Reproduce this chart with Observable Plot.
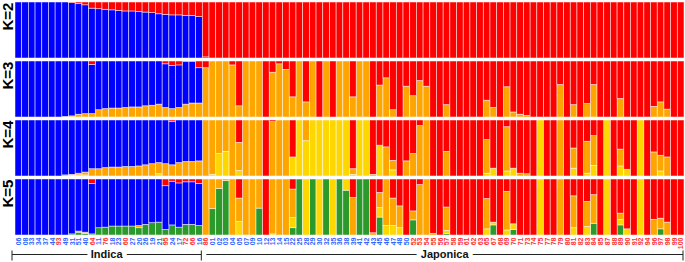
<!DOCTYPE html>
<html><head><meta charset="utf-8">
<script src="https://cdn.jsdelivr.net/npm/d3@7"></script>
<script src="https://cdn.jsdelivr.net/npm/@observablehq/plot@0.6"></script>
<style>body{margin:0;background:#fff} svg{display:block}</style>
</head><body><div id="chart"></div>
<script>
// Individuals in plotted order
const ids = ["06","08","33","34","37","44","93","49","31","51","40","64","11","76","18","23","60","27","20","26","19","21","95","24","17","72","66","16",
"86","01","02","03","04","05","07","09","10","12","13","14","15","22","25","28","29","30","32","35","36","38","39","41","42","43","45","46","47","48","50",
"52","53","54","55","56","57","58","59","61","62","63","65","67","68","69","70","71","73","74","75","77","78","79","80","81","82","83","84","85","87","88","89","90","91","92","94","96","97","98","99","100"];
// tick labels drawn in red
const redLabels = ["93","64","76","60","95","72","66","86","52","53","54","55","56","57","58","59","61","62","63","65","67","68","69","70","71","73","74","75","77","78","79","80","81","82","83","84","85","87","88","89","90","91","92","94","96","97","98","99","100"];
const groups = [{name:"Indica", from:"06", to:"16"}, {name:"Japonica", from:"86", to:"100"}];
const panelNames = ["K=2","K=3","K=4","K=5"];

// K=2
const k2Blue = [1,1,1,1,1,1,1,1,.99,.97, .95,.89,.88,.87,.86,.85,.84,.84,.83,.82, .81,.79,.78,.77,.77,.76,.76,.74,.02,0,
0,0,0,0,0,0,0,0,0,0, 0,0,0,0,0,0,0,0,0,0, 0,0,0,0,0,0,0,0,0,0, 0,0,0,0,0,0,0,0,0,0, 0,0,0,0,0,0,0,0,0,0, 0,0,0,0,0,0,0,0,0,0, 0,0,0,0,0,0,0,0,0,0];
const k2Red = [0,0,0,0,0,0,0,0,.01,.03, .05,.11,.12,.13,.14,.15,.16,.16,.17,.18, .19,.21,.22,.23,.23,.24,.24,.26,.98,1,
1,1,1,1,1,1,1,1,1,1, 1,1,1,1,1,1,1,1,1,1, 1,1,1,1,1,1,1,1,1,1, 1,1,1,1,1,1,1,1,1,1, 1,1,1,1,1,1,1,1,1,1, 1,1,1,1,1,1,1,1,1,1, 1,1,1,1,1,1,1,1,1,1];

// K=3
const k3Red = [0,0,0,0,0,0,0,0,0,0, 0,.06,0,0,0,0,0,0,0,0, 0,0,.05,.08,.07,.01,.01,.12,.12,0,
0,0,.07,.8,0,0,0,1,.2,.05, .15,.64,0,.73,0,1,0,1,0,0, .64,0,0,1,.43,.3,.87,1,.45,.62, .35,.45,1,1,.78,1,1,1,1,1,
.7,.83,1,.46,.91,.95,.97,1,1,1, 1,.42,1,.78,1,.76,.42,1,1,1, .67,1,1,1,1,.81,.73,.86,1,1];
const k3Blue = [1,1,1,1,1,1,1,.99,.98,.95, .94,.88,.87,.85,.84,.84,.83,.82,.82,.8, .79,.77,.78,.77,.76,.76,.74,.63,0,0,
0,0,0,0,0,0,0,0,0,0, 0,0,0,0,0,0,0,0,0,0, 0,0,0,0,0,0,0,0,0,0, 0,0,0,0,0,0,0,0,0,0, 0,0,0,0,0,0,0,0,0,0, 0,0,0,0,0,0,0,0,0,0, 0,0,0,0,0,0,0,0,0,0];
const k3Orange = [0,0,0,0,0,0,0,.01,.02,.05, .06,.06,.13,.15,.16,.16,.17,.18,.18,.2, .21,.23,.17,.15,.17,.23,.25,.25,.88,1,
1,1,.93,.2,1,1,1,0,.8,.95, .85,.36,1,.27,1,0,1,0,1,1, .36,1,1,0,.57,.7,.13,0,.55,.38, .65,.55,0,0,.22,0,0,0,0,0,
.3,.17,0,.54,.09,.05,.03,0,0,0, 0,.58,0,.22,0,.24,.58,0,0,0, .33,0,0,0,0,.19,.27,.14,0,0];

// K=4
const k4Red = [0,0,0,0,0,0,0,0,0,0, 0,0,0,0,0,0,0,0,0,0, 0,0,0,.03,0,0,0,0,0,0,
0,0,0,.4,0,0,0,1,.03,0, 0,.66,0,0,0,0,0,0,0,0, .87,0,0,.97,.45,.48,.72,1,.73,.6, .1,0,1,1,.56,1,1,1,1,1,
.35,.86,1,.12,.86,.95,.96,1,0,1, 1,0,1,.5,1,.38,.28,1,0,1, .52,.88,1,0,1,.57,.63,.66,1,1];
const k4Blue = [1,1,1,1,1,1,1,.98,.97,.95, .93,.87,.87,.85,.84,.84,.83,.83,.82,.8, .78,.76,.78,.77,.76,.74,.74,.73,0,0,
0,0,0,0,0,0,0,0,0,0, 0,0,0,0,0,0,0,0,0,0, 0,0,0,0,0,0,0,0,0,0, 0,0,0,0,0,0,0,0,0,0, 0,0,0,0,0,0,0,0,0,0, 0,0,0,0,0,0,0,0,0,0, 0,0,0,0,0,0,0,0,0,0];
const k4Orange = [0,0,0,0,0,0,0,.02,.02,.03, .05,.13,.13,.15,.16,.16,.17,.17,.18,.2, .22,.2,.22,.2,.24,.26,.26,.27,1,.97,
.6,.56,1,.5,1,1,1,0,.97,1, 1,0,0,.37,0,0,0,0,0,0, .1,0,0,.03,0,.52,.17,0,.27,.4, .9,1,0,0,.44,0,0,0,0,0,
.6,0,0,.79,0,.05,.04,0,0,0, 0,1,0,.36,0,.57,.53,0,0,0, .3,0,0,0,0,.43,.28,.34,0,0];
const k4Yellow = [0,0,0,0,0,0,0,0,.01,.02, .02,0,0,0,0,0,0,0,0,0, 0,.04,0,0,0,0,0,0,0,.03,
.4,.44,0,.1,0,0,0,0,0,0, 0,.34,1,.63,1,1,1,1,1,1, .03,1,1,0,.55,0,.11,0,0,0, 0,0,0,0,0,0,0,0,0,0,
.05,.14,0,.09,.14,0,0,0,1,0, 0,0,0,.14,0,.05,.19,0,1,0, .18,.12,0,1,0,0,.09,0,0,0];

// K=5
const k5Red = [0,0,0,0,0,0,0,0,0,0, 0,.08,0,0,0,0,0,0,0,0, 0,0,.12,.04,.07,.05,.05,.08,0,0,
0,0,0,.34,0,0,0,1,0,0, 0,.18,0,0,0,0,0,0,0,0, .33,0,0,.96,.24,0,.34,.48,1,.57, .1,0,.97,1,.5,1,1,1,1,1,
.35,.77,1,.22,.8,1,1,1,0,1, 1,0,1,.3,1,.4,.28,1,0,1, .61,.89,1,0,1,.72,.7,.77,1,1];
const k5Blue = [1,1,1,1,1,1,1,1,.98,.93, .95,.9,.87,.86,.84,.84,.84,.84,.83,.81, .78,.77,.78,.78,.79,.76,.76,.75,0,0,
0,0,0,0,0,0,0,0,0,0, 0,0,0,0,0,0,0,0,0,0, 0,0,0,0,0,0,0,0,0,0, 0,0,0,0,0,0,0,0,0,0, 0,0,0,0,0,0,0,0,0,0, 0,0,0,0,0,0,0,0,0,0, 0,0,0,0,0,0,0,0,0,0];
const k5Orange = [0,0,0,0,0,0,0,0,0,.02, .02,0,0,0,0,0,0,0,.04,0, 0,0,0,0,0,0,0,0,1,.53,
.17,.03,1,.42,1,1,.52,0,.98,1, 1,.51,0,0,0,0,0,0,0,0, .67,0,0,.04,.27,.83,.49,.39,0,.16, .9,1,.03,0,.42,0,0,0,0,0,
.54,0,0,.69,0,0,0,0,0,0, 0,1,0,.57,0,.45,.51,0,0,0, .11,0,0,0,0,.28,.19,.23,0,0];
const k5Yellow = [0,0,0,0,0,0,0,0,0,0, 0,0,0,0,0,0,0,0,0,0, 0,0,0,0,0,0,0,0,0,0,
0,0,0,.24,0,0,0,0,.02,0, 0,.18,0,1,0,1,0,1,0,.2, 0,0,0,0,.17,.17,.17,.13,0,0, 0,0,0,0,.05,0,0,0,0,0,
.11,.05,0,.09,.1,0,0,0,1,0, 0,0,0,.13,0,.15,0,0,1,0, .1,.11,0,1,0,0,0,0,0,0];
const k5Green = [0,0,0,0,0,0,0,0,.02,.05, .03,.02,.13,.14,.16,.16,.16,.16,.13,.19, .22,.23,.1,.18,.14,.19,.19,.17,0,.47,
.83,.97,0,0,0,0,.48,0,0,0, 0,.13,1,0,1,0,1,0,1,.8, 0,1,1,0,.32,0,0,0,0,.27, 0,0,0,0,.03,0,0,0,0,0,
0,.18,0,0,.1,0,0,0,0,0, 0,0,0,0,0,0,.21,0,0,0, .18,0,0,0,0,0,.11,0,0,0];

const palette = {red:"#ff0000", blue:"#0000ff", orange:"#ffa500", yellow:"#ffd700", green:"#2b9a2b"};
const stackOrder = ["green","yellow","orange","blue","red"]; // bottom -> top
const panels = [
  {k:"K=2", comps:{red:k2Red, blue:k2Blue}},
  {k:"K=3", comps:{red:k3Red, blue:k3Blue, orange:k3Orange}},
  {k:"K=4", comps:{red:k4Red, blue:k4Blue, orange:k4Orange, yellow:k4Yellow}},
  {k:"K=5", comps:{red:k5Red, blue:k5Blue, orange:k5Orange, yellow:k5Yellow, green:k5Green}}
];
const rows = [];
for (const p of panels) for (const c of stackOrder) if (p.comps[c]) p.comps[c].forEach((v, i) => { if (v > 0) rows.push({k:p.k, id:ids[i], comp:c, v}); });
const tickRows = ids.map(id => ({id, k:"K=5"}));

const font = "'Liberation Sans', Arial, sans-serif";
const plot = Plot.plot({
  width: 685, height: 262,
  marginLeft: 15, marginRight: 1, marginTop: 2, marginBottom: 26,
  style: {fontFamily: font, background: "white"},
  x: {type: "band", domain: ids, padding: 0, axis: null},
  y: {domain: [0, 1], axis: null},
  fy: {domain: panelNames, paddingInner: 0.05, paddingOuter: 0, axis: null},
  marks: [
    Plot.barY(rows, {x: "id", y: "v", fy: "k", z: "comp", fill: d => palette[d.comp], stroke: "white", strokeWidth: 0.7, strokeOpacity: 0.7}),
    Plot.text(panelNames, {fy: d => d, text: d => d, frameAnchor: "left", rotate: -90, dx: -7, fontSize: 15, fontWeight: "bold", fill: "black"}),
    Plot.text(tickRows, {x: "id", fy: "k", text: "id", frameAnchor: "bottom", rotate: -90, textAnchor: "end", lineAnchor: "middle", dy: 2, fontSize: 7, fontWeight: "bold", fill: d => redLabels.includes(d.id) ? "#ff3333" : "#3366ff"})
  ]
});
document.getElementById("chart").append(plot);

// group brackets using the plot's x scale
const xs = plot.scale("x");
const g = d3.select(plot).append("g").attr("font-family", font);
const lineY = 254.5;
groups.forEach((grp, gi) => {
  const x1 = xs.apply(grp.from) + (gi === 0 ? -3 : 4);
  const x2 = xs.apply(grp.to) + xs.bandwidth - (gi === 0 ? 1 : 1);
  g.append("line").attr("x1", x1).attr("x2", x2).attr("y1", lineY).attr("y2", lineY).attr("stroke", "#222").attr("stroke-width", 1);
  if (gi === 0) g.append("line").attr("x1", x1).attr("x2", x1).attr("y1", lineY - 4).attr("y2", lineY + 6).attr("stroke", "#222");
  g.append("line").attr("x1", x2).attr("x2", x2).attr("y1", lineY - 4).attr("y2", lineY + 6).attr("stroke", "#222");
  g.append("text").attr("x", (x1 + x2) / 2).attr("y", lineY).attr("dy", "0.35em").attr("text-anchor", "middle")
    .attr("font-size", 11).attr("font-weight", "bold").attr("fill", "#111")
    .attr("stroke", "white").attr("stroke-width", 8).attr("paint-order", "stroke").text(grp.name);
});
</script>
</body></html>
